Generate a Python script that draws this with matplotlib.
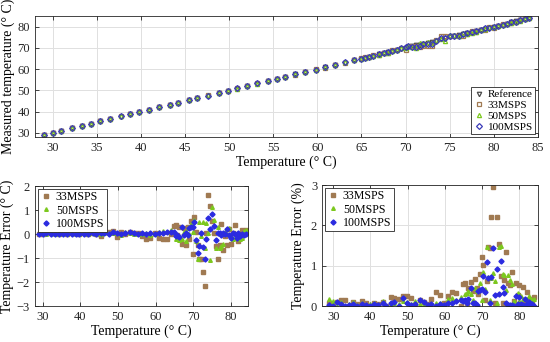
import matplotlib.pyplot as plt
import numpy as np

plt.rcParams['font.family'] = ['Liberation Serif', 'DejaVu Serif']

# reference temperatures (deg C)
temp_ref = [29.0, 30.0, 31.0, 32.2, 33.3, 34.3, 35.4, 36.5, 37.7, 38.8, 39.8, 40.9,
            42.0, 43.3, 44.2, 45.4, 46.4, 47.6, 48.8, 49.9, 50.9, 52.0, 53.2, 54.4,
            55.4, 56.3, 57.5, 58.6, 59.8, 60.9, 62.0, 63.1, 64.2,
            64.9, 65.4, 65.8, 66.3, 67.0, 67.6, 68.0, 68.5, 69.0, 69.5, 70.0, 70.3,
            70.7, 71.2, 71.6, 72.0, 72.5, 73.0, 73.5, 74.0, 74.5, 75.0, 75.5, 76.0,
            76.5, 77.0, 77.5, 78.0, 78.5, 79.0, 79.5, 80.0, 80.5, 81.0, 81.5, 82.0,
            82.5, 83.0, 83.5, 84.0]

# measurement error (deg C) for each sampling rate
err_33 = [0.02, 0.01, 0.03, 0.05, 0.05, 0.0, 0.04, 0.02, 0.05, 0.03, 0.0, 0.03,
          0.02, 0.04, 0.0, -0.1, 0.09, 0.08, 0.12, -0.13, 0.1, 0.02, 0.08, 0.06,
          0.03, -0.1, -0.2, -0.16, 0.05, -0.15, -0.22, -0.2, 0.0,
          0.35, 0.38, -0.05, 0.3, -0.4, 0.25, -0.45, 0.3, -0.2, 0.55, -0.85, 0.72,
          0.1, -0.45, -1.05, -1.03, -1.6, -2.15, 0.05, 1.63, 1.15, 0.55, 0.05, -0.5,
          -1.02, -0.45, 0.4, -0.65, -0.1, -0.45, 0.22, -0.42, 0.05, 0.38, -0.1, -0.28,
          -0.1, 0.15, 0.1, 0.18]
err_50 = [0.05, 0.04, 0.0, 0.03, 0.0, 0.02, 0.04, 0.01, 0.03, 0.0, 0.02, 0.03,
          0.01, 0.05, 0.0, 0.02, 0.04, 0.03, 0.06, 0.05, -0.03, 0.07, 0.03, 0.02,
          0.01, 0.0, 0.05, -0.05, 0.02, 0.1, 0.12, 0.1, 0.15,
          0.1, -0.2, -0.22, -0.25, -0.2, 0.1, -0.3, 0.25, 0.0, 0.4, 0.1, 0.6,
          -0.3, -1.05, 0.52, -0.1, 0.5, -0.6, 0.45, 0.05, -1.1, 1.12, 0.6, -0.58,
          0.3, -0.6, -0.5, -0.42, 0.1, 0.0, 0.26, -0.1, -0.2, -0.15, 0.0, -0.15,
          -0.2, -0.15, 0.12, 0.15]
err_100 = [0.01, 0.0, 0.03, 0.02, 0.0, 0.01, 0.02, 0.0, 0.02, 0.01, 0.0, 0.02,
           0.01, 0.03, 0.0, 0.03, 0.05, 0.0, 0.1, 0.04, 0.02, 0.03, 0.08, 0.06,
           0.02, 0.03, 0.0, 0.03, 0.02, 0.04, 0.05, 0.08, 0.1,
           0.08, -0.1, -0.05, -0.12, 0.3, -0.05, 0.05, -0.02, 0.25, 0.28, 0.3, 0.52,
           -0.25, -0.78, -0.5, 0.05, -0.52, -1.05, -0.2, 0.68, 0.22, 0.83, 0.35, -0.25,
           0.05, 0.03, -0.02, 0.03, 0.0, 0.2, -0.05, -0.18, 0.05, 0.02, -0.15, 0.05,
           -0.08, 0.02, -0.05, 0.0]

labels = ["33MSPS", "50MSPS", "100MSPS"]
colors = ["#a07a52", "#7cc81e", "#2b2be0"]
top_colors = ["#a07a52", "#7cc81e", "#3a3ab8"]
markers = ["s", "^", "D"]

t = np.array(temp_ref)
errs = [np.array(err_33), np.array(err_50), np.array(err_100)]

fig = plt.figure(figsize=(5.5, 3.42), dpi=100)
ax1 = fig.add_axes([0.0636, 0.599, 0.9145, 0.354])
ax2 = fig.add_axes([0.0636, 0.105, 0.387, 0.351])
ax3 = fig.add_axes([0.5855, 0.105, 0.3927, 0.354])


def style(ax):
    ax.grid(True, color="#e0e0e0", linewidth=0.7)
    ax.set_axisbelow(True)
    ax.tick_params(direction="in", top=True, right=True, labelsize=9,
                   length=3, width=0.6, colors="#262626")
    for s in ax.spines.values():
        s.set_color("#262626")
        s.set_linewidth(0.6)


def small_legend(ax, loc, size):
    leg = ax.legend(loc=loc, fontsize=size, handletextpad=0.3, borderpad=0.2,
                    labelspacing=0.1, handlelength=1.0, fancybox=False,
                    borderaxespad=0.25)
    leg.get_frame().set_edgecolor("#262626")
    leg.get_frame().set_linewidth(0.6)
    leg.get_frame().set_alpha(1)


# top: measured vs reference
ax1.plot(t, t, "v", color="#4a4a4a", mfc="none", ms=3.2, mew=0.9, label="Reference")
for e, lab, c, m in zip(errs, labels, top_colors, markers):
    ax1.plot(t, t + e, m, color=c, mfc="none", ms=3.0, mew=0.9, label=lab)
ax1.set_xlim(28, 85)
ax1.set_ylim(28, 85)
ax1.set_xticks(range(30, 86, 5))
ax1.set_yticks(range(30, 81, 10))
ax1.set_xlabel("Temperature (° C)", fontsize=10, labelpad=1)
ax1.set_ylabel("Measured temperature (° C)", fontsize=10, labelpad=2)
style(ax1)
small_legend(ax1, "lower right", 8)

# bottom left: absolute error
for e, lab, c, m in zip(errs, labels, colors, markers):
    ax2.plot(t, e, m, color=c, ms=2.6, label=lab)
ax2.set_xlim(28, 84.5)
ax2.set_ylim(-3, 2)
ax2.set_xticks(range(30, 81, 10))
ax2.set_yticks(range(-3, 3))
ax2.set_xlabel("Temperature (° C)", fontsize=10, labelpad=1)
ax2.set_ylabel("Temperature Error (° C)", fontsize=10, labelpad=2)
style(ax2)
small_legend(ax2, "upper left", 8.6)

# bottom right: relative error
for e, lab, c, m in zip(errs, labels, colors, markers):
    ax3.plot(t, np.abs(e) / t * 100, m, color=c, ms=2.6, label=lab)
ax3.set_xlim(27, 85)
ax3.set_ylim(0, 3)
ax3.set_xticks(range(30, 81, 10))
ax3.set_yticks(range(0, 4))
ax3.set_xlabel("Temperature (° C)", fontsize=10, labelpad=1)
ax3.set_ylabel("Temperature Error (%)", fontsize=10, labelpad=4)
style(ax3)
small_legend(ax3, "upper left", 8.6)

fig.savefig("out.png", dpi=100)
